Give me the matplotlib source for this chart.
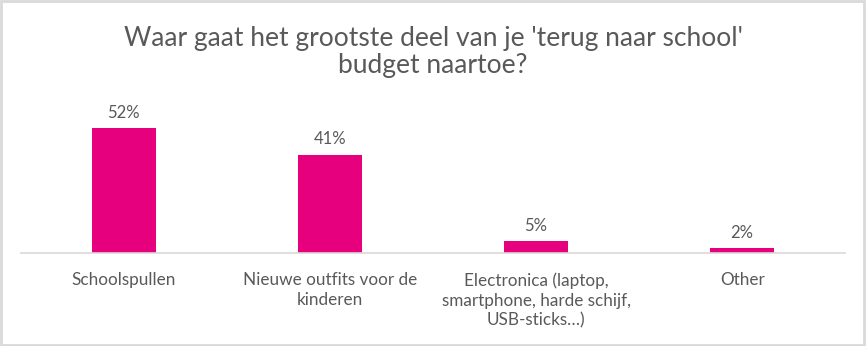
import matplotlib
matplotlib.use("Agg")
import matplotlib.pyplot as plt
from matplotlib.patches import Rectangle

# data
categories = ['Schoolspullen', 'Nieuwe outfits voor de\nkinderen',
              'Electronica (laptop,\nsmartphone, harde schijf,\nUSB-sticks…)', 'Other']
values = [52, 41, 5, 2]
title = "Waar gaat het grootste deel van je 'terug naar school'\nbudget naartoe?"

plt.rcParams['font.family'] = ['Lato', 'DejaVu Sans']
txt = '#595959'
bar_col = '#E6007E'

fig = plt.figure(figsize=(8.66, 3.46), dpi=100)
ax = fig.add_axes([0.024, 0.269, 0.952, 0.416])

x = range(len(values))
bars = ax.bar(x, values, width=0.31, color=bar_col)
for i, v in zip(x, values):
	ax.text(i, v + 3, '%d%%' % v, ha='center', va='bottom', fontsize=12, color=txt)

ax.set_xlim(-0.5, len(values) - 0.5)
ax.set_ylim(0, 60)
ax.set_xticks(list(x))
ax.set_xticklabels(categories, fontsize=12.3, color=txt, linespacing=1.3)
ax.tick_params(axis='x', length=0, pad=14)
ax.set_yticks([])
for s in ['top', 'right', 'left']:
	ax.spines[s].set_visible(False)
ax.spines['bottom'].set_color('#D9D9D9')
ax.spines['bottom'].set_linewidth(1.2)

fig.text(0.5, 0.85, title, ha='center', va='center', fontsize=19, color=txt, linespacing=1.1)

fig.patches.append(Rectangle((0.001, 0.002), 0.997, 0.994, transform=fig.transFigure,
	fill=False, edgecolor='#D9D9D9', linewidth=2))

fig.savefig('out.png', dpi=100)
